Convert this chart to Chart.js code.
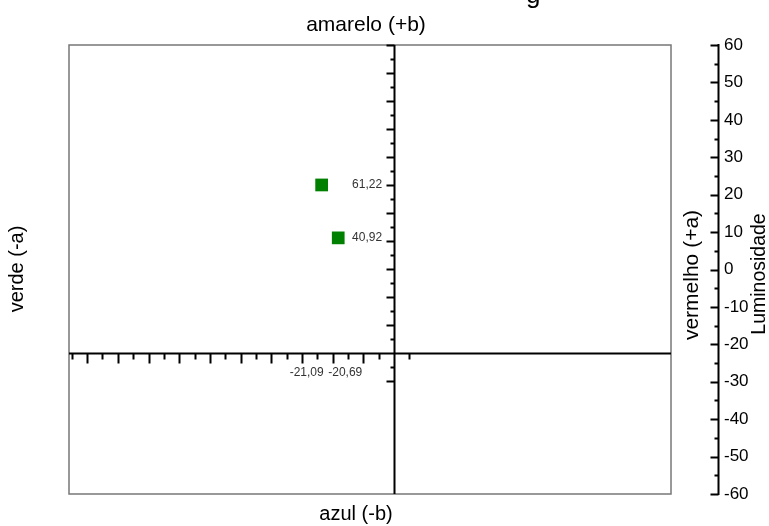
<!DOCTYPE html>
<html><head><meta charset="utf-8">
<script src="https://cdn.jsdelivr.net/npm/chart.js@4/dist/chart.umd.min.js"></script>
<style>html,body{margin:0;padding:0;background:#fff}#wrap{width:769px;height:526px;position:relative}</style>
</head><body><div id="wrap"><canvas id="c" width="769" height="526"></canvas></div>
<script>
// ---- data ----
const aValues = [-23.6, -18.2];          // horizontal position (a*)
const bValues = [60.0, 41.1];            // vertical position (b*)
const aLabels = ['-21,09', '-20,69'];    // labels shown on the a axis
const bLabels = ['61,22', '40,92'];      // labels shown on the b axis
const lumTicks = [-60, -50, -40, -30, -20, -10, 0, 10, 20, 30, 40, 50, 60];
const aTickRange = [-105, 5];            // a axis tick span
const bTickRange = [-10, 110];           // b axis tick span
const titleTop = 'amarelo (+b)';
const titleBottom = 'azul (-b)';
const titleLeft = 'verde (-a)';
const titleRight = 'vermelho (+a)';
const titleLum = 'Luminosidade';
const chartTitle = 'g';

const FONT = "'Liberation Sans', Arial, sans-serif";

const labPlugin = {
  id: 'lab',
  beforeDatasetsDraw(chart) {
    const {ctx, chartArea: ca, scales} = chart;
    const xs = scales.x, ys = scales.y, ls = scales.y2;
    ctx.save();
    // frame
    ctx.strokeStyle = '#777';
    ctx.lineWidth = 1.5;
    ctx.strokeRect(ca.left, ca.top, ca.right - ca.left, ca.bottom - ca.top);
    // cross axes
    const x0 = Math.round(xs.getPixelForValue(0)) + 0.5;
    const y0 = Math.round(ys.getPixelForValue(0)) + 0.5;
    ctx.strokeStyle = '#000';
    ctx.lineWidth = 2;
    ctx.beginPath();
    ctx.moveTo(ca.left, y0); ctx.lineTo(ca.right, y0);
    ctx.moveTo(x0, ca.top); ctx.lineTo(x0, ca.bottom);
    ctx.stroke();
    // ticks on a axis (downwards)
    ctx.lineWidth = 2;
    ctx.beginPath();
    for (let v = Math.max(Math.ceil(xs.min / 5) * 5, aTickRange[0]); v <= Math.min(xs.max, aTickRange[1]); v += 5) {
      if (v === 0) continue;
      const px = Math.round(xs.getPixelForValue(v)) + 0.5;
      const len = (v % 10 === 0) ? 10 : 6;
      ctx.moveTo(px, y0); ctx.lineTo(px, y0 + len);
    }
    // ticks on b axis (leftwards)
    for (let v = Math.max(Math.ceil(ys.min / 5) * 5, bTickRange[0]); v <= Math.min(ys.max, bTickRange[1]); v += 5) {
      if (v === 0) continue;
      const py = Math.round(ys.getPixelForValue(v)) + 0.5;
      const len = (v % 10 === 0) ? 8 : 4;
      ctx.moveTo(x0, py); ctx.lineTo(x0 - len, py);
    }
    ctx.stroke();
    // luminosity axis
    const xl = Math.round(ca.right + 47) + 0.5;
    ctx.beginPath();
    ctx.moveTo(xl, ls.getPixelForValue(lumTicks[lumTicks.length - 1]) - 1);
    ctx.lineTo(xl, ls.getPixelForValue(lumTicks[0]) + 1);
    for (let v = lumTicks[0]; v <= lumTicks[lumTicks.length - 1]; v += 5) {
      const py = Math.round(ls.getPixelForValue(v)) + 0.5;
      const len = (v % 10 === 0) ? 8 : 4;
      ctx.moveTo(xl, py); ctx.lineTo(xl - len, py);
    }
    ctx.stroke();
    ctx.restore();
  },
  afterDraw(chart) {
    const {ctx, scales} = chart;
    const xs = scales.x, ys = scales.y;
    const x0 = xs.getPixelForValue(0), y0 = ys.getPixelForValue(0);
    ctx.save();
    // value labels
    ctx.fillStyle = '#333';
    ctx.font = '12px ' + FONT;
    ctx.textBaseline = 'middle';
    ctx.textAlign = 'right';
    bValues.forEach((b, i) => ctx.fillText(bLabels[i], x0 - 12, ys.getPixelForValue(b)));
    const aShift = [-15, 7];
    ctx.textAlign = 'center';
    aValues.forEach((a, i) => ctx.fillText(aLabels[i], xs.getPixelForValue(a) + aShift[i], y0 + 20));
    // titles
    ctx.fillStyle = '#000';
    ctx.textBaseline = 'alphabetic';
    ctx.textAlign = 'center';
    ctx.font = '21px ' + FONT;
    ctx.fillText(titleTop, 366, 31);
    ctx.font = '20px ' + FONT;
    ctx.fillText(titleBottom, 356, 520);
    ctx.textBaseline = 'middle';
    const rot = (t, x, y) => { ctx.save(); ctx.translate(x, y); ctx.rotate(-Math.PI / 2); ctx.fillText(t, 0, 0); ctx.restore(); };
    rot(titleLeft, 17, 269);
    ctx.font = '21px ' + FONT;
    rot(titleRight, 692, 275);
    ctx.font = '19.5px ' + FONT;
    rot(titleLum, 760, 274);
    ctx.font = '26px ' + FONT;
    ctx.textAlign = 'left';
    ctx.textBaseline = 'alphabetic';
    ctx.fillText(chartTitle, 526, 3);
    ctx.restore();
  }
};

new Chart(document.getElementById('c'), {
  type: 'scatter',
  data: {
    datasets: [{
      data: aValues.map((a, i) => ({x: a, y: bValues[i]})),
      pointStyle: 'rect',
      pointRadius: 9,
      backgroundColor: '#008000',
      borderColor: '#008000',
      borderWidth: 0
    }]
  },
  options: {
    responsive: false,
    animation: false,
    devicePixelRatio: 1,
    layout: {padding: {left: 69, top: 45, bottom: 32, right: 0}},
    plugins: {legend: {display: false}, tooltip: {enabled: false}, title: {display: false}},
    scales: {
      x: {type: 'linear', min: -105.9, max: 90.2, display: false},
      y: {type: 'linear', min: -50.4, max: 110, display: false},
      y2: {
        type: 'linear', position: 'right', min: -60, max: 60,
        afterBuildTicks: s => { s.ticks = lumTicks.map(v => ({value: v})); },
        afterFit: s => { s.width = 98; },
        ticks: {padding: 1, color: '#000', font: {family: FONT, size: 17}},
        grid: {display: true, drawOnChartArea: false, drawTicks: true, tickLength: 52, tickColor: 'rgba(0,0,0,0)'},
        border: {display: false}
      }
    }
  },
  plugins: [labPlugin]
});
</script></body></html>
